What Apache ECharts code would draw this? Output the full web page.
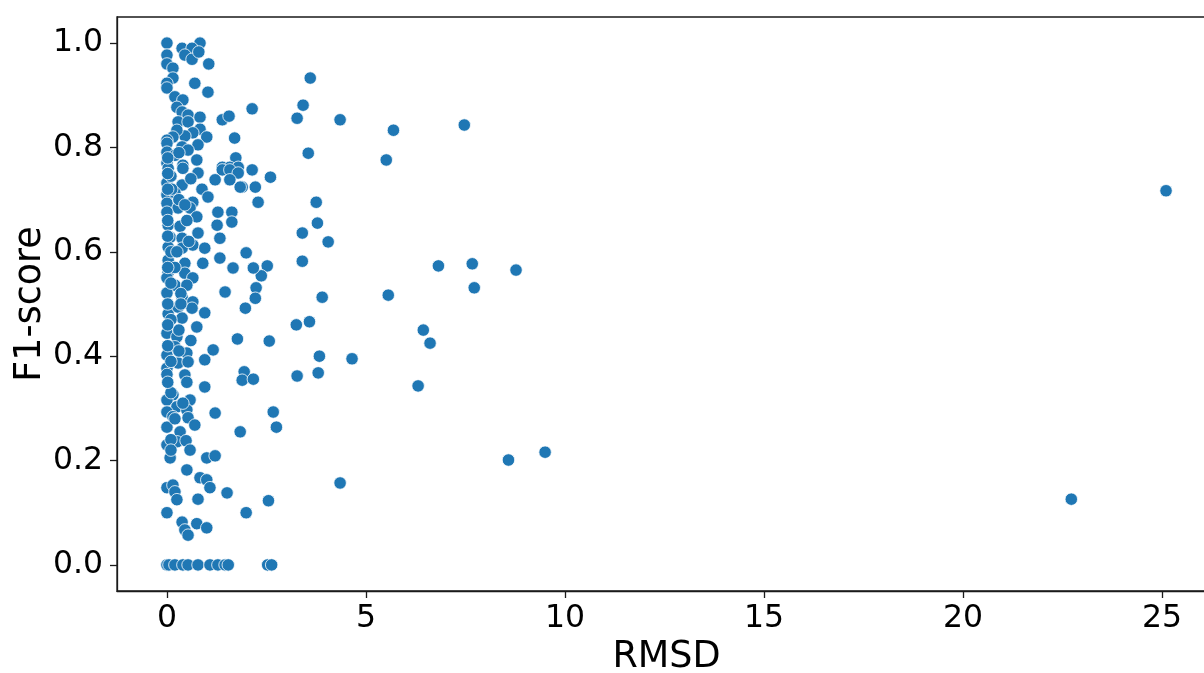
<!DOCTYPE html>
<html>
<head>
<meta charset="utf-8">
<script src="https://cdn.jsdelivr.net/npm/echarts@6/dist/echarts.min.js"></script>
<style>
html,body{margin:0;padding:0;background:#fff;}
#chart{width:1204px;height:673px;}
</style>
</head>
<body>
<div id="chart"></div>
<script>
// x values (RMSD)
const rmsd = [
0,0.83,0.38,0.63,0,0.45,0.63,0.8,0,1.05,0.15,0.15,0,0,0.7,1.03,0.2,0.4,0.25,0.38,0.53,0.83,1.39,1.56,0.28,0.53,0.83,0.65,0.45,0.25,0.15,1.0,1.7,0,0,0.38,0.78,0,0.2,0.53,0.75,1.73,0,0.4,1.39,1.58,1.79,
0.03,0.4,0.78,1.39,1.58,1.79,1.21,1.58,1.89,0,0.38,0.88,0,0.2,1.03,0.65,0,0.28,0.58,0.75,1.28,1.63,0,1.26,1.63,0.03,0.33,0.78,1.33,0.08,0.38,0.65,0.03,0.38,0.95,0.03,0.45,0.9,1.33,1.66,0.03,0.45,0,0.65,0.2,0.5,0,1.46,0.38,0.65,
0.03,0.28,0.63,0.95,0.38,0.75,0,0.25,0.2,0.5,1.16,0,0.95,0.28,0.53,0,0.45,0.95,0,0.15,0,0.58,0.25,0,0.5,0.15,0.53,1.21,0,0.7,0.33,1.84,
0,0.25,0.48,0.58,0.08,1.0,1.21,0.5,0.83,1.0,1.08,0,0.15,0.2,0.25,0.78,1.51,0,0.38,0.75,1.0,0.45,0.53,
0,0.05,0.2,0.4,0.53,0.78,1.08,1.28,1.46,1.54,2.53,2.63,
3.6,3.42,3.27,4.35,5.69,7.47,25.1,5.51,3.55,2.14,2.6,3.75,3.78,3.4,4.05,3.4,6.82,7.67,8.77,7.72,5.56,3.9,6.44,6.61,4.65,3.83,3.58,3.25,3.8,3.27,6.31,9.5,8.58,4.35,22.72,2.67,2.75,2.55,2.57,2.52,2.37,2.24,2.22,2.17,1.99,1.97,1.77,1.94,1.89,2.17,1.99,2.22,2.29,2.14,1.84,
0.1,0.3,0.1,0.2,0.35,0.1,0.3,0.1,0.4,0.1,0.5,0.6,0.3,0.12,0.45,0.55,0.25,0.1,0.35,0.6,0.1,0.3,0.5,0.2,0.1,
0.02,0.02,0.02,0.02,0.02,0.02,0.02,0.02,0.02,0.02
];
// y values (F1-score)
const f1 = [
1.0,1.0,0.99,0.99,0.977,0.977,0.969,0.983,0.96,0.96,0.952,0.933,0.923,0.914,0.923,0.906,0.897,0.891,0.877,0.868,0.862,0.858,0.853,0.86,0.849,0.849,0.835,0.828,0.822,0.833,0.82,0.82,0.818,0.814,0.808,0.801,0.805,0.791,0.785,0.795,0.776,0.78,0.77,0.766,0.762,0.762,0.762,
0.76,0.76,0.751,0.757,0.757,0.751,0.738,0.738,0.724,0.732,0.728,0.72,0.709,0.713,0.705,0.695,0.693,0.684,0.684,0.667,0.676,0.676,0.676,0.651,0.657,0.651,0.649,0.636,0.626,0.628,0.626,0.613,0.609,0.607,0.607,0.584,0.578,0.578,0.588,0.569,0.561,0.559,0.55,0.55,0.536,0.536,0.521,0.523,0.513,0.504,
0.481,0.494,0.492,0.483,0.473,0.456,0.444,0.437,0.418,0.406,0.412,0.402,0.393,0.387,0.389,0.377,0.364,0.341,0.365,0.326,0.316,0.316,0.303,0.293,0.297,0.284,0.282,0.291,0.264,0.268,0.255,0.255,
0.23,0.236,0.238,0.22,0.205,0.205,0.209,0.182,0.167,0.163,0.148,0.148,0.153,0.14,0.125,0.126,0.138,0.1,0.082,0.079,0.071,0.067,0.057,
0,0,0,0,0,0,0,0,0,0,0,0,
0.933,0.881,0.856,0.853,0.833,0.843,0.717,0.776,0.789,0.874,0.743,0.695,0.655,0.636,0.619,0.582,0.573,0.577,0.565,0.531,0.517,0.513,0.45,0.425,0.395,0.4,0.466,0.46,0.368,0.362,0.343,0.216,0.201,0.157,0.126,0.293,0.264,0.123,0.429,0.573,0.554,0.531,0.511,0.569,0.598,0.492,0.433,0.37,0.354,0.356,0.1,0.724,0.695,0.757,0.724,
0.745,0.7,0.6,0.57,0.52,0.47,0.45,0.33,0.31,0.24,0.66,0.74,0.79,0.72,0.69,0.62,0.6,0.54,0.5,0.43,0.39,0.41,0.35,0.28,0.22,
0.35,0.42,0.46,0.5,0.57,0.63,0.66,0.72,0.75,0.78
];
const xTicks = [0,5,10,15,20,25];
const yTicks = [0,0.2,0.4,0.6,0.8,1.0];

const points = rmsd.map((x,i)=>[x,f1[i]]);
const chart = echarts.init(document.getElementById('chart'));
const font = 'DejaVu Sans';
chart.setOption({
  animation:false,
  backgroundColor:'#ffffff',
  grid:{left:117,top:17,width:1099,height:574,show:true,borderColor:'#1a1a1a',borderWidth:1.3,containLabel:false,outerBoundsMode:'none'},
  xAxis:{
    type:'value',min:-1.255,max:26.355,
    name:'RMSD',nameLocation:'middle',nameGap:48,nameMoveOverlap:false,
    nameTextStyle:{fontFamily:font,fontSize:36.5,color:'#000'},
    axisLine:{show:true,onZero:false,lineStyle:{color:'#1a1a1a',width:1.3}},
    axisTick:{show:true,length:7,lineStyle:{color:'#1a1a1a',width:1.3},customValues:xTicks},
    axisLabel:{fontFamily:font,fontSize:31.5,color:'#000',margin:12,customValues:xTicks},
    splitLine:{show:false}
  },
  yAxis:{
    type:'value',min:-0.05,max:1.05,
    name:'F1-score',nameLocation:'middle',nameGap:68,nameRotate:90,nameMoveOverlap:false,
    nameTextStyle:{fontFamily:font,fontSize:36.5,color:'#000'},
    axisLine:{show:true,onZero:false,lineStyle:{color:'#1a1a1a',width:1.3}},
    axisTick:{show:true,length:7,lineStyle:{color:'#1a1a1a',width:1.3},customValues:yTicks},
    axisLabel:{fontFamily:font,fontSize:31.5,color:'#000',margin:14,customValues:yTicks,formatter:v=>v.toFixed(1)},
    splitLine:{show:false}
  },
  series:[{
    type:'scatter',data:points,symbol:'circle',symbolSize:12.5,
    itemStyle:{color:'#1f77b4',borderColor:'#ffffff',borderWidth:0.8,opacity:1}
  }]
});
</script>
</body>
</html>
